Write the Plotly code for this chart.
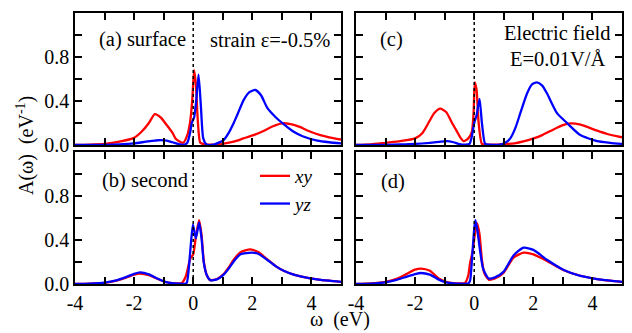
import plotly.graph_objects as go

# ---------------- data ----------------
# panel (a) surface, strain
a_xy_x = [-4, -3.5, -3.0, -2.5, -2.0, -1.75, -1.5, -1.3, -1.1, -0.95, -0.7, -0.6, -0.45, -0.34, -0.2, -0.1, -0.03, 0.03, 0.09, 0.16, 0.24, 0.4, 0.7, 1.03, 1.37, 1.7, 2.04, 2.4, 2.7, 3.0, 3.3, 3.6, 3.97, 4.3, 4.6, 5.0]
a_xy_y = [0.0, 0.003, 0.01, 0.03, 0.065, 0.12, 0.2, 0.28, 0.25, 0.2, 0.11, 0.06, 0.03, 0.02, 0.09, 0.22, 0.42, 0.68, 0.55, 0.2, 0.02, 0.005, 0.004, 0.012, 0.03, 0.06, 0.09, 0.13, 0.17, 0.197, 0.19, 0.165, 0.12, 0.09, 0.07, 0.05]
a_yz_x = [-4, -3.0, -2.5, -2.0, -1.6, -1.3, -1.12, -0.9, -0.7, -0.5, -0.3, -0.2, -0.1, -0.05, 0.03, 0.1, 0.18, 0.26, 0.34, 0.45, 0.69, 1.03, 1.2, 1.37, 1.5, 1.71, 1.9, 2.1, 2.3, 2.5, 2.8, 3.06, 3.4, 3.7, 4.2, 4.6, 5.0]
a_yz_y = [0.0, 0.002, 0.006, 0.015, 0.03, 0.04, 0.045, 0.04, 0.025, 0.008, 0.003, 0.02, 0.12, 0.2, 0.25, 0.4, 0.64, 0.35, 0.06, 0.005, 0.004, 0.045, 0.11, 0.2, 0.28, 0.41, 0.48, 0.5, 0.45, 0.34, 0.25, 0.19, 0.12, 0.08, 0.04, 0.025, 0.015]

# panel (b) second layer
b_xy_x = [-4, -3.5, -3.0, -2.6, -2.3, -2.0, -1.8, -1.5, -1.2, -0.95, -0.72, -0.5, -0.38, -0.25, -0.1, 0.0, 0.1, 0.2, 0.28, 0.36, 0.46, 0.58, 0.8, 1.03, 1.2, 1.37, 1.6, 1.93, 2.2, 2.5, 2.8, 3.06, 3.4, 3.63, 4.19, 4.6, 5.0]
b_xy_y = [0.0, 0.003, 0.01, 0.03, 0.055, 0.085, 0.095, 0.08, 0.045, 0.02, 0.008, 0.005, 0.01, 0.07, 0.23, 0.27, 0.45, 0.58, 0.45, 0.2, 0.08, 0.035, 0.045, 0.09, 0.15, 0.22, 0.29, 0.315, 0.29, 0.225, 0.16, 0.12, 0.085, 0.07, 0.043, 0.03, 0.02]
b_yz_x = [-4, -3.5, -3.0, -2.6, -2.3, -2.0, -1.8, -1.5, -1.2, -0.95, -0.72, -0.5, -0.3, -0.22, -0.1, -0.01, 0.09, 0.2, 0.28, 0.36, 0.46, 0.58, 0.8, 1.03, 1.2, 1.37, 1.6, 1.99, 2.2, 2.5, 2.8, 3.06, 3.4, 3.63, 4.19, 4.6, 5.0]
b_yz_y = [0.0, 0.003, 0.012, 0.033, 0.06, 0.092, 0.105, 0.088, 0.048, 0.02, 0.007, 0.003, 0.002, 0.01, 0.3, 0.54, 0.415, 0.56, 0.42, 0.19, 0.08, 0.035, 0.042, 0.085, 0.14, 0.205, 0.27, 0.285, 0.275, 0.22, 0.16, 0.12, 0.085, 0.07, 0.043, 0.03, 0.02]

# panel (c) electric field
c_xy_x = [-4, -3.5, -3.0, -2.5, -2.0, -1.75, -1.55, -1.35, -1.15, -0.95, -0.75, -0.6, -0.45, -0.36, -0.2, -0.08, -0.02, 0.02, 0.08, 0.15, 0.26, 0.4, 0.8, 1.0, 1.36, 1.7, 2.01, 2.3, 2.6, 3.0, 3.25, 3.6, 4.16, 4.5, 5.0]
c_xy_y = [0.0, 0.005, 0.02, 0.035, 0.06, 0.11, 0.2, 0.29, 0.33, 0.3, 0.2, 0.13, 0.06, 0.035, 0.06, 0.12, 0.3, 0.57, 0.5, 0.2, 0.01, 0.003, 0.004, 0.008, 0.015, 0.035, 0.06, 0.09, 0.13, 0.18, 0.197, 0.185, 0.13, 0.1, 0.07]
c_yz_x = [-4, -3.0, -2.5, -2.0, -1.5, -1.2, -0.93, -0.7, -0.5, -0.3, -0.16, -0.08, 0.0, 0.08, 0.18, 0.26, 0.37, 0.5, 0.88, 1.05, 1.22, 1.4, 1.56, 1.79, 1.95, 2.12, 2.3, 2.46, 2.8, 3.14, 3.59, 4.16, 4.6, 5.0]
c_yz_y = [0.0, 0.002, 0.005, 0.01, 0.02, 0.028, 0.035, 0.025, 0.008, 0.003, 0.01, 0.08, 0.2, 0.27, 0.42, 0.2, 0.01, 0.003, 0.003, 0.02, 0.06, 0.16, 0.29, 0.47, 0.55, 0.57, 0.54, 0.47, 0.29, 0.2, 0.09, 0.035, 0.02, 0.01]

# panel (d)
d_xy_x = [-4, -3.5, -3.0, -2.6, -2.3, -2.0, -1.8, -1.5, -1.2, -0.95, -0.7, -0.5, -0.31, -0.2, -0.14, -0.05, 0.02, 0.1, 0.18, 0.26, 0.34, 0.49, 0.7, 0.99, 1.33, 1.67, 2.0, 2.46, 3.03, 3.59, 4.16, 4.6, 5.0]
d_xy_y = [0.0, 0.005, 0.02, 0.05, 0.09, 0.13, 0.14, 0.12, 0.05, 0.02, 0.008, 0.005, 0.01, 0.08, 0.19, 0.3, 0.45, 0.55, 0.45, 0.22, 0.1, 0.04, 0.05, 0.1, 0.24, 0.285, 0.27, 0.21, 0.125, 0.075, 0.045, 0.03, 0.02]
d_yz_x = [-4, -3.5, -3.0, -2.6, -2.3, -2.0, -1.8, -1.5, -1.2, -0.95, -0.7, -0.5, -0.3, -0.2, -0.14, -0.07, 0.0, 0.04, 0.1, 0.2, 0.3, 0.49, 0.7, 0.99, 1.33, 1.67, 2.0, 2.46, 3.03, 3.59, 4.16, 4.6, 5.0]
d_yz_y = [0.0, 0.004, 0.015, 0.04, 0.065, 0.09, 0.1, 0.085, 0.04, 0.015, 0.006, 0.003, 0.002, 0.005, 0.03, 0.25, 0.5, 0.58, 0.5, 0.3, 0.14, 0.05, 0.06, 0.11, 0.26, 0.33, 0.31, 0.22, 0.127, 0.073, 0.045, 0.03, 0.02]

x_tickvals = [-4, -3, -2, -1, 0, 1, 2, 3, 4]
x_ticktext = ["-4", " ", "-2", " ", "0", " ", "2", " ", "4"]
y_tickvals = [0.0, 0.2, 0.4, 0.6, 0.8, 1.0]
y_ticktext = ["0.0", " ", "0.4", " ", "0.8", " "]

series_names = ["<i>xy</i>", "<i>yz</i>"]
panel_labels = ["(a) surface", "(b) second", "(c)", "(d)"]

# ---------------- figure ----------------
RED = "#ff0000"
BLUE = "#0000ff"
FONT = "Liberation Serif, Times New Roman, serif"

fig = go.Figure()

panels = [
    ("x", "y", a_xy_x, a_xy_y, a_yz_x, a_yz_y),
    ("x2", "y2", b_xy_x, b_xy_y, b_yz_x, b_yz_y),
    ("x3", "y3", c_xy_x, c_xy_y, c_yz_x, c_yz_y),
    ("x4", "y4", d_xy_x, d_xy_y, d_yz_x, d_yz_y),
]
for i, (xa, ya, rx, ry, bx, by) in enumerate(panels):
    show = (i == 1)
    fig.add_trace(go.Scatter(x=rx, y=ry, mode="lines", xaxis=xa, yaxis=ya,
                             line=dict(color=RED, width=2.3, shape="spline", smoothing=0.6),
                             name=series_names[0], showlegend=show))
    fig.add_trace(go.Scatter(x=bx, y=by, mode="lines", xaxis=xa, yaxis=ya,
                             line=dict(color=BLUE, width=2.3, shape="spline", smoothing=0.6),
                             name=series_names[1], showlegend=show))
    fig.add_trace(go.Scatter(x=[0, 0], y=[0, 1.2], mode="lines", xaxis=xa, yaxis=ya,
                             line=dict(color="black", width=1.5, dash="dot"),
                             showlegend=False, hoverinfo="skip"))

# The page body has an 8px margin; figure sized so the plot area lands at
# page x 75..622, y 13..284.
OFF = 8
W, H = 616, 325
L, T = 75 - OFF, 13 - OFF
pw, ph = 547, 271
R = W - L - pw
B = H - T - ph

def px_x(x):  # page pixel -> paper x
    return (x - 75) / pw

def px_y(y):  # page pixel -> paper y
    return (284 - y) / ph

xl = [0, px_x(341)]
xr = [px_x(356), 1]
yt = [px_y(145), 1]
yb = [0, px_y(152)]

common_ax = dict(showline=True, linecolor="black", linewidth=1.5, mirror="allticks",
                 ticks="inside", ticklen=7, tickwidth=1.5, tickcolor="black",
                 showgrid=False, zeroline=False,
                 tickfont=dict(family=FONT, size=20, color="black"))

def xax(domain, anchor, labels):
    d = dict(common_ax)
    d.update(domain=domain, anchor=anchor, range=[-4, 5], tickvals=x_tickvals,
             ticktext=x_ticktext, showticklabels=labels)
    return d

def yax(domain, anchor, labels):
    d = dict(common_ax)
    d.update(domain=domain, anchor=anchor, range=[0, 1.2], tickvals=y_tickvals,
             ticktext=y_ticktext, showticklabels=labels)
    return d

fig.update_layout(
    width=W, height=H,
    margin=dict(l=L, r=R, t=T, b=B, autoexpand=False),
    paper_bgcolor="white", plot_bgcolor="white",
    font=dict(family=FONT, size=20, color="black"),
    xaxis=xax(xl, "y", False), yaxis=yax(yt, "x", True),
    xaxis2=xax(xl, "y2", True), yaxis2=yax(yb, "x2", True),
    xaxis3=xax(xr, "y3", False), yaxis3=yax(yt, "x3", False),
    xaxis4=xax(xr, "y4", True), yaxis4=yax(yb, "x4", False),
    legend=dict(x=px_x(255), y=px_y(157), xanchor="left", yanchor="top",
                bgcolor="rgba(0,0,0,0)", font=dict(family=FONT, size=19),
                tracegroupgap=0, itemwidth=30),
    showlegend=True,
)

ann = [
    dict(x=-3.25, y=0.955, xref="x", yref="y", text=panel_labels[0], xanchor="left"),
    dict(x=4.71, y=0.955, xref="x", yref="y", text="strain ε=-0.5%", xanchor="right"),
    dict(x=-3.15, y=0.945, xref="x2", yref="y2", text=panel_labels[1], xanchor="left"),
    dict(x=-3.25, y=0.955, xref="x3", yref="y3", text=panel_labels[2], xanchor="left"),
    dict(x=2.81, y=1.018, xref="x3", yref="y3", text="Electric field", xanchor="center"),
    dict(x=2.81, y=0.78, xref="x3", yref="y3", text="E=0.01V/Å", xanchor="center"),
    dict(x=-3.22, y=0.93, xref="x4", yref="y4", text=panel_labels[3], xanchor="left"),
]
for a in ann:
    a.update(showarrow=False, yanchor="middle", font=dict(family=FONT, size=20.5, color="black"))
    fig.add_annotation(**a)

fig.add_annotation(x=px_x(25), y=px_y(146), xref="paper", yref="paper",
                   text="A(ω)  (eV<sup>-1</sup>)", xanchor="center", yanchor="middle",
                   showarrow=False, textangle=-90, font=dict(family=FONT, size=20, color="black"))
fig.add_annotation(x=px_x(340), y=px_y(319), xref="paper", yref="paper",
                   text="ω  (eV)", xanchor="center", yanchor="middle",
                   showarrow=False, font=dict(family=FONT, size=20, color="black"))

fig.write_html("out.html")
